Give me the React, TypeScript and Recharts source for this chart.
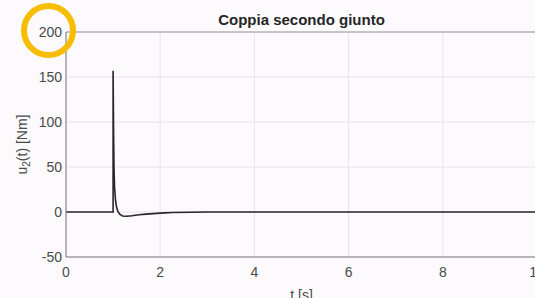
import { LineChart, Line, XAxis, YAxis, CartesianGrid, ReferenceLine } from 'recharts'

// Coppia secondo giunto — torque of the second joint, step at t = 1 s
const tValues = [0, 0.5, 1.0, 1.0, 1.01, 1.02, 1.03, 1.05, 1.07, 1.1, 1.14, 1.2, 1.28, 1.4, 1.55, 1.7, 1.85, 2.0, 2.1, 2.25, 3, 4, 5, 6, 7, 8, 9, 10]
const u2Values = [0, 0, 0, 157, 90, 47, 28, 14, 6, 1, -2.5, -4.4, -4.8, -4.2, -3.1, -2.4, -1.8, -1.3, -1, -0.5, 0, 0, 0, 0, 0, 0, 0, 0]
const xTicks = [0, 2, 4, 6, 8, 10]
const yTicks = [-50, 0, 50, 100, 150, 200]

const data = tValues.map((t, i) => ({ t, u: u2Values[i] }))

const FONT = '"Liberation Sans", Arial, Helvetica, sans-serif'
const C_TEXT = '#4a4a4a'
const C_AXIS = '#7a7a7a'
const C_GRID = '#e6e6e6'
const C_BG = '#fcfafc'

const W = 560
const H = 298

function YLabel({ viewBox }: any) {
  const cx = 22
  const cy = viewBox ? viewBox.y + viewBox.height / 2 : 145
  return (
    <text x={cx} y={cy} transform={`rotate(-90 ${cx} ${cy})`} textAnchor="middle" dominantBaseline="central"
      fontFamily={FONT} fontSize={14} fill={C_TEXT}>
      u<tspan fontSize={10} dy={4}>2</tspan><tspan dy={-4}>(t) [Nm]</tspan>
    </text>
  )
}

export default function App() {
  return (
    <div style={{ position: 'absolute', left: 0, top: 0, width: 535, height: 298, overflow: 'hidden', background: C_BG }}>
      <div style={{ position: 'absolute', left: 66, width: 471, top: 11, textAlign: 'center', fontFamily: FONT, fontWeight: 'bold', fontSize: 15, color: '#262626' }}>
        Coppia secondo giunto
      </div>
      <LineChart width={W} height={H} data={data} margin={{ top: 32, right: W - 537, bottom: 0, left: 0 }}
        style={{ position: 'absolute', left: 0, top: 0 }}>
        <CartesianGrid stroke={C_GRID} strokeWidth={1} />
        <XAxis dataKey="t" type="number" domain={[0, 10]} ticks={xTicks} height={41} allowDataOverflow
          tickSize={0} tickMargin={10} stroke={C_AXIS} tick={{ fill: C_TEXT, fontSize: 14, fontFamily: FONT }}
          label={{ value: 't [s]', position: 'insideBottom', offset: -2, fill: C_TEXT, fontSize: 14, fontFamily: FONT }} />
        <YAxis type="number" domain={[-50, 200]} ticks={yTicks} width={66} allowDataOverflow
          tickSize={0} tickMargin={4} stroke={C_AXIS} tick={{ fill: C_TEXT, fontSize: 14, fontFamily: FONT }}
          label={<YLabel />} />
        <ReferenceLine y={200} stroke="#9a9a9a" strokeWidth={1} />
        <Line type="linear" dataKey="u" stroke="#262626" strokeWidth={1.6} dot={false} isAnimationActive={false} />
      </LineChart>
      <div style={{ position: 'absolute', left: 21, top: 3, width: 43, height: 43, borderRadius: '50%', border: '6px solid #f7bd00' }} />
    </div>
  )
}
